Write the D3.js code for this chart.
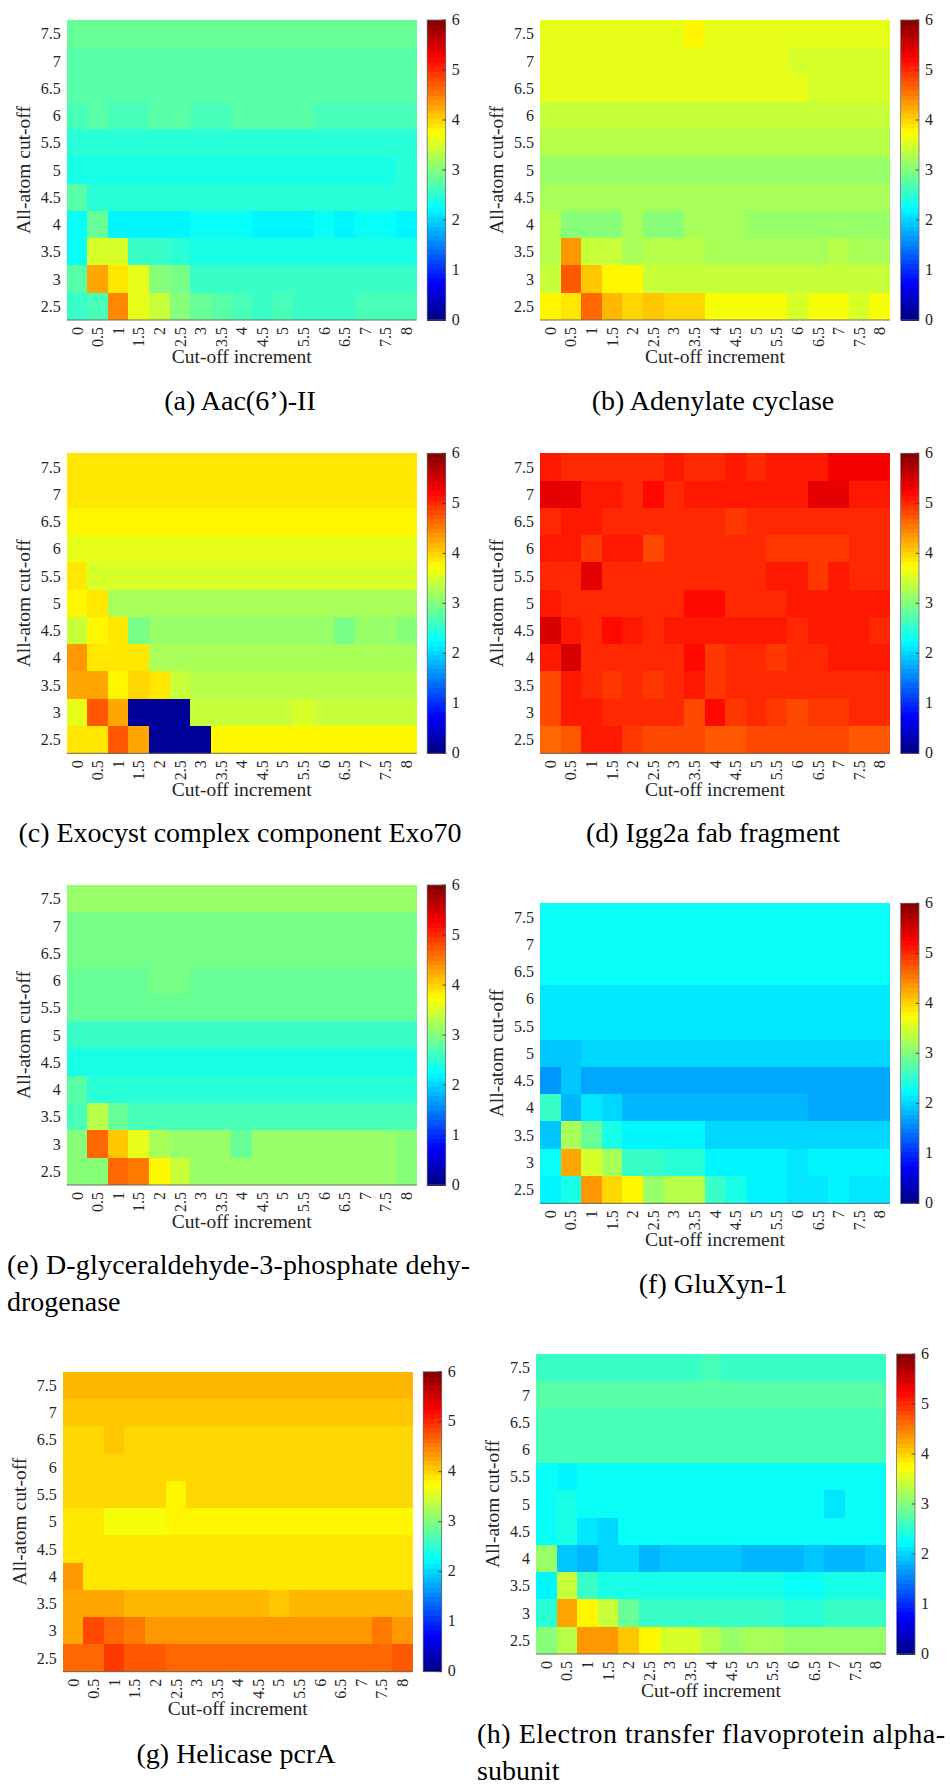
<!DOCTYPE html>
<html>
<head>
<meta charset="utf-8">
<script src="https://cdn.jsdelivr.net/npm/d3@7"></script>
<style>
  body { margin: 0; background: #fff; }
  svg { display: block; }
</style>
</head>
<body>
<script>
//Axis tick labels
const xTicks = ["0","0.5","1","1.5","2","2.5","3","3.5","4","4.5","5","5.5","6","6.5","7","7.5","8"];
const yTicks = ["7.5","7","6.5","6","5.5","5","4.5","4","3.5","3","2.5"];
const cbTicks = [0, 1, 2, 3, 4, 5, 6];

//Heatmap values, rows from 7.5 (top) down to 2.5
const aacII = [
  [2.9,2.9,2.9,2.9,2.9,2.9,2.9,2.9,2.9,2.9,2.9,2.9,2.9,2.9,2.9,2.9,2.9],
  [2.8,2.8,2.8,2.8,2.8,2.8,2.8,2.8,2.8,2.8,2.8,2.8,2.8,2.8,2.8,2.8,2.8],
  [2.75,2.75,2.75,2.75,2.75,2.75,2.75,2.75,2.75,2.75,2.75,2.75,2.75,2.75,2.75,2.75,2.75],
  [2.7,2.8,2.7,2.7,2.8,2.8,2.7,2.7,2.8,2.8,2.8,2.8,2.7,2.7,2.7,2.7,2.7],
  [2.5,2.5,2.5,2.5,2.5,2.5,2.5,2.5,2.5,2.5,2.5,2.5,2.5,2.5,2.5,2.5,2.5],
  [2.35,2.35,2.35,2.35,2.35,2.35,2.35,2.35,2.35,2.35,2.35,2.35,2.35,2.35,2.35,2.35,2.45],
  [2.75,2.45,2.45,2.45,2.45,2.45,2.45,2.45,2.45,2.45,2.45,2.45,2.45,2.45,2.45,2.45,2.45],
  [2.25,2.9,2.2,2.22,2.22,2.22,2.25,2.25,2.25,2.2,2.2,2.2,2.25,2.2,2.25,2.25,2.22],
  [2.3,3.5,3.5,2.6,2.6,2.5,2.4,2.4,2.4,2.4,2.4,2.4,2.4,2.4,2.4,2.4,2.4],
  [2.8,4.3,3.85,3.6,3.0,2.95,2.6,2.6,2.6,2.6,2.6,2.6,2.6,2.6,2.6,2.6,2.6],
  [2.6,2.65,4.45,3.6,3.4,3.0,2.9,2.8,2.65,2.55,2.65,2.55,2.55,2.55,2.7,2.7,2.7]
];

const adenylateCyclase = [
  [3.62,3.62,3.62,3.62,3.62,3.62,3.62,3.75,3.62,3.62,3.62,3.62,3.62,3.62,3.62,3.62,3.62],
  [3.6,3.6,3.6,3.6,3.6,3.6,3.6,3.6,3.6,3.6,3.6,3.6,3.5,3.5,3.5,3.5,3.5],
  [3.6,3.6,3.6,3.6,3.6,3.6,3.6,3.6,3.6,3.6,3.6,3.6,3.6,3.5,3.5,3.5,3.5],
  [3.45,3.45,3.45,3.45,3.45,3.45,3.45,3.45,3.45,3.45,3.45,3.45,3.45,3.45,3.45,3.45,3.45],
  [3.3,3.3,3.3,3.3,3.3,3.3,3.3,3.3,3.3,3.3,3.3,3.3,3.3,3.3,3.3,3.3,3.3],
  [3.1,3.1,3.1,3.1,3.1,3.1,3.1,3.1,3.1,3.1,3.1,3.1,3.1,3.1,3.1,3.1,3.1],
  [3.25,3.25,3.25,3.25,3.25,3.25,3.25,3.25,3.25,3.25,3.25,3.25,3.25,3.25,3.25,3.25,3.25],
  [3.35,3.05,3.05,3.05,3.2,3.05,3.05,3.2,3.2,3.2,3.1,3.1,3.1,3.1,3.1,3.1,3.1],
  [3.3,4.35,3.4,3.45,3.2,3.3,3.3,3.3,3.2,3.2,3.2,3.2,3.2,3.2,3.35,3.25,3.25],
  [3.45,4.7,4.05,3.8,3.8,3.45,3.45,3.4,3.4,3.4,3.4,3.4,3.4,3.4,3.4,3.4,3.4],
  [3.75,3.9,4.6,4.15,3.95,4.05,3.95,3.95,3.7,3.7,3.7,3.7,3.55,3.72,3.72,3.55,3.7]
];

const exo70 = [
  [3.87,3.87,3.87,3.87,3.87,3.87,3.87,3.87,3.87,3.87,3.87,3.87,3.87,3.87,3.87,3.87,3.87],
  [3.87,3.87,3.87,3.87,3.87,3.87,3.87,3.87,3.87,3.87,3.87,3.87,3.87,3.87,3.87,3.87,3.87],
  [3.77,3.77,3.77,3.77,3.77,3.77,3.77,3.77,3.77,3.77,3.77,3.77,3.77,3.77,3.77,3.77,3.77],
  [3.62,3.62,3.62,3.62,3.62,3.62,3.62,3.62,3.62,3.62,3.62,3.62,3.62,3.62,3.62,3.62,3.62],
  [3.9,3.5,3.5,3.5,3.5,3.5,3.5,3.5,3.5,3.5,3.5,3.5,3.5,3.5,3.5,3.5,3.5],
  [3.75,3.88,3.2,3.2,3.2,3.2,3.2,3.2,3.2,3.2,3.2,3.2,3.2,3.2,3.2,3.2,3.2],
  [3.45,3.75,3.9,2.95,3.15,3.15,3.15,3.15,3.15,3.15,3.15,3.15,3.15,2.95,3.15,3.15,3.0],
  [4.35,3.85,3.9,3.9,3.2,3.2,3.2,3.2,3.2,3.2,3.2,3.2,3.2,3.2,3.2,3.2,3.2],
  [4.3,4.25,3.8,3.95,3.9,3.4,3.3,3.3,3.3,3.3,3.3,3.3,3.3,3.3,3.3,3.3,3.3],
  [3.6,4.7,4.25,0.1,0.1,0.1,3.45,3.45,3.45,3.45,3.45,3.55,3.45,3.45,3.45,3.45,3.45],
  [3.85,3.85,4.7,4.25,0.1,0.1,0.1,3.82,3.82,3.82,3.82,3.82,3.82,3.82,3.82,3.82,3.82]
];

const igg2a = [
  [5.1,5.05,5.0,5.0,5.0,5.05,5.15,5.05,5.05,5.15,5.05,5.15,5.1,5.1,5.3,5.3,5.3],
  [5.35,5.35,5.1,5.15,5.0,5.2,5.05,5.15,5.15,5.15,5.15,5.15,5.15,5.35,5.35,5.15,5.15],
  [5.05,5.15,5.15,5.05,5.0,5.0,5.05,5.05,5.05,4.95,5.05,5.05,5.05,5.05,5.05,5.05,5.05],
  [5.15,5.15,4.95,5.1,5.1,4.85,5.0,5.0,5.0,5.0,5.05,4.95,4.95,4.95,4.95,5.05,5.05],
  [5.05,5.05,5.35,5.05,5.0,5.0,5.0,5.0,5.05,5.05,5.05,5.15,5.15,4.95,5.15,5.05,5.05],
  [5.15,5.05,5.05,5.05,5.05,5.05,5.05,5.2,5.2,5.05,5.05,5.05,5.15,5.15,5.15,5.15,5.15],
  [5.45,5.15,5.05,5.2,5.1,5.0,5.1,5.1,5.1,5.1,5.1,5.1,5.05,5.15,5.15,5.15,5.05],
  [5.1,5.5,5.05,5.05,5.0,5.05,5.05,5.2,4.95,5.05,5.05,4.9,5.05,5.05,5.15,5.15,5.15],
  [4.85,5.15,5.05,4.95,5.0,4.9,5.0,5.1,4.95,5.05,5.05,5.05,5.0,5.0,5.0,5.0,5.0],
  [4.8,5.1,5.1,5.05,5.0,5.0,5.0,4.85,5.2,4.9,5.05,4.95,4.85,4.95,4.95,5.05,5.05],
  [4.6,4.7,5.15,5.15,4.95,4.8,4.85,4.8,4.7,4.7,4.8,4.8,4.8,4.85,4.85,4.75,4.75]
];

const gapdh = [
  [3.1,3.1,3.1,3.1,3.1,3.1,3.1,3.1,3.1,3.1,3.1,3.1,3.1,3.1,3.1,3.1,3.1],
  [2.95,2.95,2.95,2.95,2.95,2.95,2.95,2.95,2.95,2.95,2.95,2.95,2.95,2.95,2.95,2.95,2.95],
  [2.95,2.95,2.95,2.95,2.95,2.95,2.95,2.95,2.95,2.95,2.95,2.95,2.95,2.95,2.95,2.95,2.95],
  [2.85,2.85,2.85,2.85,2.95,2.95,2.85,2.85,2.85,2.85,2.85,2.85,2.85,2.85,2.85,2.85,2.85],
  [2.85,2.85,2.85,2.85,2.85,2.85,2.85,2.85,2.85,2.85,2.85,2.85,2.85,2.85,2.85,2.85,2.85],
  [2.6,2.6,2.6,2.6,2.6,2.6,2.6,2.6,2.6,2.6,2.6,2.6,2.6,2.6,2.6,2.6,2.6],
  [2.35,2.35,2.35,2.35,2.35,2.35,2.35,2.35,2.35,2.35,2.35,2.35,2.35,2.35,2.35,2.35,2.35],
  [2.8,2.5,2.5,2.5,2.5,2.5,2.5,2.5,2.5,2.5,2.5,2.5,2.5,2.5,2.5,2.5,2.5],
  [2.7,3.3,2.85,2.7,2.7,2.7,2.7,2.7,2.7,2.7,2.7,2.7,2.7,2.7,2.7,2.7,2.7],
  [3.05,4.6,4.1,3.65,3.25,3.15,3.15,3.15,2.85,3.15,3.15,3.15,3.15,3.15,3.15,3.15,3.05],
  [3.05,3.05,4.65,4.5,3.8,3.4,3.1,3.1,3.1,3.1,3.1,3.1,3.1,3.1,3.1,3.1,3.0]
];

const gluXyn1 = [
  [2.25,2.25,2.25,2.25,2.25,2.25,2.25,2.25,2.25,2.25,2.25,2.25,2.25,2.25,2.25,2.25,2.25],
  [2.25,2.25,2.25,2.25,2.25,2.25,2.25,2.25,2.25,2.25,2.25,2.25,2.25,2.25,2.25,2.25,2.25],
  [2.25,2.25,2.25,2.25,2.25,2.25,2.25,2.25,2.25,2.25,2.25,2.25,2.25,2.25,2.25,2.25,2.25],
  [2.12,2.12,2.12,2.12,2.12,2.12,2.12,2.12,2.12,2.12,2.12,2.12,2.12,2.12,2.12,2.12,2.12],
  [2.12,2.12,2.12,2.12,2.12,2.12,2.12,2.12,2.12,2.12,2.12,2.12,2.12,2.12,2.12,2.12,2.12],
  [1.95,1.95,2.05,2.05,2.05,2.05,2.05,2.05,2.05,2.05,2.05,2.05,2.05,2.05,2.05,2.05,2.05],
  [1.6,1.95,1.7,1.7,1.7,1.7,1.7,1.7,1.7,1.7,1.7,1.7,1.7,1.7,1.7,1.7,1.7],
  [2.55,1.85,2.15,2.0,1.8,1.8,1.8,1.8,1.8,1.8,1.8,1.8,1.8,1.72,1.72,1.72,1.72],
  [1.95,3.2,2.85,2.35,2.2,2.2,2.2,2.2,2.05,2.05,2.05,2.05,2.05,2.05,2.05,2.05,2.05],
  [2.3,4.25,3.55,3.25,2.6,2.55,2.45,2.45,2.2,2.2,2.2,2.2,2.1,2.2,2.2,2.2,2.2],
  [2.2,2.35,4.4,3.95,3.75,3.1,3.3,3.3,2.55,2.35,2.2,2.2,2.1,2.1,2.2,2.15,2.15]
];

const helicasePcrA = [
  [4.13,4.13,4.13,4.13,4.13,4.13,4.13,4.13,4.13,4.13,4.13,4.13,4.13,4.13,4.13,4.13,4.13],
  [4.07,4.07,4.07,4.07,4.07,4.07,4.07,4.07,4.07,4.07,4.07,4.07,4.07,4.07,4.07,4.07,4.07],
  [3.97,3.97,4.05,3.97,3.97,3.97,3.97,3.97,3.97,3.97,3.97,3.97,3.97,3.97,3.97,3.97,3.97],
  [3.97,3.97,3.97,3.97,3.97,3.97,3.97,3.97,3.97,3.97,3.97,3.97,3.97,3.97,3.97,3.97,3.97],
  [3.97,3.97,3.97,3.97,3.97,3.8,3.97,3.97,3.97,3.97,3.97,3.97,3.97,3.97,3.97,3.97,3.97],
  [3.85,3.85,3.72,3.72,3.72,3.82,3.82,3.82,3.82,3.82,3.82,3.82,3.82,3.82,3.82,3.82,3.82],
  [3.85,3.85,3.85,3.85,3.85,3.85,3.85,3.85,3.85,3.85,3.85,3.85,3.85,3.85,3.85,3.85,3.85],
  [4.35,3.85,3.85,3.85,3.85,3.92,3.85,3.85,3.85,3.85,3.85,3.85,3.85,3.85,3.85,3.85,3.85],
  [4.3,4.25,4.25,4.2,4.2,4.2,4.2,4.2,4.2,4.2,4.1,4.2,4.2,4.2,4.2,4.2,4.2],
  [4.3,4.8,4.6,4.5,4.4,4.35,4.35,4.35,4.35,4.35,4.35,4.35,4.35,4.35,4.35,4.5,4.4],
  [4.65,4.65,4.95,4.75,4.75,4.65,4.65,4.65,4.65,4.65,4.65,4.65,4.65,4.65,4.65,4.65,4.7]
];

const etfAlpha = [
  [2.6,2.6,2.6,2.6,2.6,2.6,2.6,2.6,2.7,2.6,2.6,2.6,2.6,2.6,2.6,2.6,2.6],
  [2.75,2.75,2.75,2.75,2.75,2.75,2.75,2.75,2.75,2.75,2.75,2.75,2.75,2.75,2.75,2.75,2.75],
  [2.65,2.65,2.65,2.65,2.65,2.65,2.65,2.65,2.65,2.65,2.65,2.65,2.65,2.65,2.65,2.65,2.65],
  [2.65,2.65,2.65,2.65,2.65,2.65,2.65,2.65,2.65,2.65,2.65,2.65,2.65,2.65,2.65,2.65,2.65],
  [2.3,2.2,2.3,2.3,2.3,2.3,2.3,2.3,2.3,2.3,2.3,2.3,2.3,2.3,2.3,2.3,2.3],
  [2.25,2.4,2.25,2.25,2.25,2.25,2.25,2.25,2.25,2.25,2.25,2.25,2.25,2.25,2.1,2.25,2.25],
  [2.25,2.4,2.15,2.05,2.25,2.25,2.25,2.25,2.25,2.25,2.25,2.25,2.25,2.25,2.25,2.25,2.25],
  [3.15,1.95,1.85,2.0,2.05,1.85,1.95,1.95,1.95,1.95,1.85,1.85,1.85,1.95,1.85,1.85,1.95],
  [2.2,3.45,2.55,2.35,2.35,2.35,2.35,2.35,2.35,2.35,2.35,2.35,2.25,2.25,2.35,2.35,2.35],
  [2.5,4.25,3.8,3.4,2.85,2.55,2.6,2.55,2.55,2.55,2.55,2.55,2.45,2.45,2.6,2.6,2.6],
  [3.0,3.3,4.35,4.35,4.1,3.75,3.5,3.55,3.35,3.15,3.25,3.25,3.15,3.15,3.15,3.15,3.15]
];

//Captions (one entry per line)
const captions = [
  ["(a) Aac(6’)-II"],
  ["(b) Adenylate cyclase"],
  ["(c) Exocyst complex component Exo70"],
  ["(d) Igg2a fab fragment"],
  ["(e) D-glyceraldehyde-3-phosphate dehy-", "drogenase"],
  ["(f) GluXyn-1"],
  ["(g) Helicase pcrA"],
  ["(h) Electron transfer flavoprotein alpha-", "subunit"]
];

//////////////////////////////////////////////////

//Panel layout
const PLOT_W = 350;
const PLOT_H = 300;
const CB_GAP = 360.5;
const CB_W = 18.5;
const TICK_FONT = "Liberation Serif, Times New Roman, serif";
const TEXT_COLOR = "#262626";

const panels = [
  {data: aacII,            x0: 66.7, y0: 20,     cap: {x: 240, y: 410, anchor: "middle"}},
  {data: adenylateCyclase, x0: 540,  y0: 20,     cap: {x: 713, y: 410, anchor: "middle"}},
  {data: exo70,            x0: 66.7, y0: 453.3,  cap: {x: 240, y: 842, anchor: "middle"}},
  {data: igg2a,            x0: 540,  y0: 453.3,  cap: {x: 713, y: 842, anchor: "middle"}},
  {data: gapdh,            x0: 66.7, y0: 885,    cap: {x: 7,   y: 1274, anchor: "start", width: 463}},
  {data: gluXyn1,          x0: 540,  y0: 903.3,  cap: {x: 713, y: 1293, anchor: "middle"}},
  {data: helicasePcrA,     x0: 62.7, y0: 1371.7, cap: {x: 236, y: 1763, anchor: "middle"}},
  {data: etfAlpha,         x0: 536,  y0: 1354,   cap: {x: 477, y: 1743, anchor: "start", width: 468}}
];

//MATLAB jet colormap, 64 levels over [0, 6]
const jetScale = d3.scaleLinear()
  .domain([0, 0.125, 0.375, 0.625, 0.875, 1])
  .range(["#000080", "#0000ff", "#00ffff", "#ffff00", "#ff0000", "#800000"])
  .clamp(true);
const valueToT = d3.scaleLinear().domain([0, 6]).range([0, 1]).clamp(true);
function jet(v) {
  var idx = Math.min(63, Math.floor(valueToT(v) * 64));
  return jetScale((idx + 0.5) / 64);
}

const svg = d3.select("body").append("svg")
  .attr("width", 950)
  .attr("height", 1785);

const x = d3.scaleBand().domain(xTicks).range([0, PLOT_W]);
const y = d3.scaleBand().domain(yTicks).range([0, PLOT_H]);
const cbY = d3.scaleLinear().domain([0, 6]).range([PLOT_H, 0]);

panels.forEach(function(p, i) {
  var g = svg.append("g").attr("transform", "translate(" + p.x0 + "," + p.y0 + ")");

  //Cells
  var cells = [];
  p.data.forEach(function(row, r) {
    row.forEach(function(v, c) {
      cells.push({row: yTicks[r], col: xTicks[c], v: v});
    });
  });
  g.selectAll("rect.cell").data(cells).enter().append("rect")
    .attr("class", "cell")
    .attr("x", d => x(d.col))
    .attr("y", d => y(d.row))
    .attr("width", x.bandwidth() + 0.4)
    .attr("height", y.bandwidth() + 0.4)
    .attr("fill", d => jet(d.v))
    .attr("shape-rendering", "crispEdges");

  //Bottom axis line
  g.append("line")
    .attr("x1", 0).attr("x2", PLOT_W)
    .attr("y1", PLOT_H).attr("y2", PLOT_H)
    .attr("stroke", "#6b6b6b").attr("stroke-width", 1);

  //Y tick labels
  g.selectAll("text.ytick").data(yTicks).enter().append("text")
    .attr("class", "ytick")
    .attr("x", -6)
    .attr("y", d => y(d) + y.bandwidth() / 2)
    .attr("dy", "0.35em")
    .attr("text-anchor", "end")
    .attr("font-family", TICK_FONT)
    .attr("font-size", 16)
    .attr("fill", TEXT_COLOR)
    .text(d => d);

  //X tick labels (rotated)
  g.selectAll("text.xtick").data(xTicks).enter().append("text")
    .attr("class", "xtick")
    .attr("transform", d => "translate(" + (x(d) + x.bandwidth() / 2) + "," + (PLOT_H + 7) + ") rotate(-90)")
    .attr("dy", "0.35em")
    .attr("text-anchor", "end")
    .attr("font-family", TICK_FONT)
    .attr("font-size", 16)
    .attr("fill", TEXT_COLOR)
    .text(d => d);

  //Axis titles
  g.append("text")
    .attr("x", PLOT_W / 2)
    .attr("y", PLOT_H + 43)
    .attr("text-anchor", "middle")
    .attr("font-family", TICK_FONT)
    .attr("font-size", 19.5)
    .attr("fill", TEXT_COLOR)
    .text("Cut-off increment");

  g.append("text")
    .attr("transform", "translate(-37," + (PLOT_H / 2) + ") rotate(-90)")
    .attr("text-anchor", "middle")
    .attr("font-family", TICK_FONT)
    .attr("font-size", 19.5)
    .attr("fill", TEXT_COLOR)
    .text("All-atom cut-off");

  //Colorbar
  var cb = g.append("g").attr("transform", "translate(" + CB_GAP + ",0)");
  var steps = d3.range(64);
  cb.selectAll("rect").data(steps).enter().append("rect")
    .attr("x", 0)
    .attr("y", d => cbY((d + 1) * 6 / 64))
    .attr("width", CB_W)
    .attr("height", PLOT_H / 64 + 0.5)
    .attr("fill", d => jetScale((d + 0.5) / 64))
    .attr("shape-rendering", "crispEdges");
  cb.append("rect")
    .attr("width", CB_W).attr("height", PLOT_H)
    .attr("fill", "none")
    .attr("stroke", "#6b6b6b").attr("stroke-width", 0.8);
  cb.selectAll("line.cbtick").data(cbTicks).enter().append("line")
    .attr("class", "cbtick")
    .attr("x1", CB_W - 3.5).attr("x2", CB_W)
    .attr("y1", d => cbY(d)).attr("y2", d => cbY(d))
    .attr("stroke", "#333").attr("stroke-width", 0.8);
  cb.selectAll("text").data(cbTicks).enter().append("text")
    .attr("x", CB_W + 6)
    .attr("y", d => cbY(d))
    .attr("dy", "0.3em")
    .attr("font-family", TICK_FONT)
    .attr("font-size", 16)
    .attr("fill", TEXT_COLOR)
    .text(d => d);

  //Caption
  var lines = captions[i];
  lines.forEach(function(line, k) {
    var t = svg.append("text")
      .attr("x", p.cap.x)
      .attr("y", p.cap.y + k * 37)
      .attr("text-anchor", p.cap.anchor)
      .attr("font-family", "Liberation Serif, Times New Roman, serif")
      .attr("font-size", 28)
      .attr("fill", "#000")
      .text(line);
    if (p.cap.width && k < lines.length - 1) {
      t.attr("textLength", p.cap.width).attr("lengthAdjust", "spacing");
    }
  });
});
</script>
</body>
</html>
